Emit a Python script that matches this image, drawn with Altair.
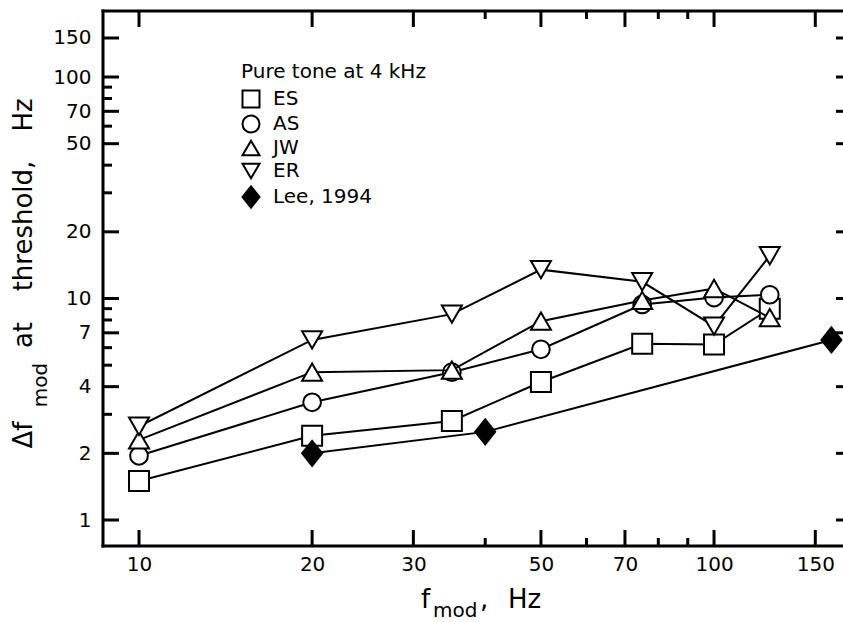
import altair as alt
import pandas as pd

# Modulation rates (Hz) and FM detection thresholds (Hz) for each listener
fmod_main = [10, 20, 35, 50, 75, 100, 125]
es = [1.5, 2.4, 2.8, 4.2, 6.25, 6.2, 9.0]
as_ = [1.95, 3.4, 4.65, 5.9, 9.4, 10.1, 10.4]
jw = [2.3, 4.65, 4.75, 7.9, 9.8, 11.1, 8.2]
er = [2.65, 6.5, 8.5, 13.5, 11.9, 7.5, 15.6]
fmod_lee = [20, 40, 160]
lee = [2.0, 2.5, 6.5]

series_names = ["ES", "AS", "JW", "ER", "Lee, 1994"]
series_shapes = ["square", "circle", "triangle-up", "triangle-down",
                 "M0,-1.25L1,0L0,1.25L-1,0Z"]
series_fills = ["white", "white", "white", "white", "black"]
series_sizes = [400, 314, 400, 400, 400]

x_label_values = [10, 20, 30, 50, 70, 100, 150]
x_minor_values = [40, 60, 80, 90]
y_label_values = [1, 2, 4, 7, 10, 20, 50, 70, 100, 150]
y_minor_values = [3, 5, 6, 8, 9, 30, 40, 60, 80, 90]

W, H = 740, 535
FONT = "DejaVu Sans"

rows = []
for name, xs, ys in [("ES", fmod_main, es), ("AS", fmod_main, as_),
                     ("JW", fmod_main, jw), ("ER", fmod_main, er),
                     ("Lee, 1994", fmod_lee, lee)]:
    for xv, yv in zip(xs, ys):
        rows.append({"series": name, "fmod": xv, "dfmod": yv})
df = pd.DataFrame(rows)

xscale = alt.Scale(type="log", domain=[8.657, 167.6], nice=False)
yscale = alt.Scale(type="log", domain=[0.7633, 198.6], nice=False)

x_axis = alt.Axis(values=x_label_values, format="d", ticks=False, domain=False,
                  grid=False, title=None, labelFont=FONT, labelFontSize=20,
                  labelColor="black", labelPadding=8, labelFlush=False,
                  labelOverlap=False)
y_axis = alt.Axis(values=y_label_values, format="d", ticks=False, domain=False,
                  grid=False, title=None, labelFont=FONT, labelFontSize=20,
                  labelColor="black", labelPadding=12, labelFlush=False,
                  labelOverlap=False)

X = alt.X("fmod:Q", scale=xscale, axis=x_axis)
Y = alt.Y("dfmod:Q", scale=yscale, axis=y_axis)

legend = alt.Legend(title="Pure tone at 4 kHz", orient="none", legendX=138,
                    legendY=51, titleLimit=400)
shape_enc = alt.Shape("series:N", scale=alt.Scale(domain=series_names,
                                                  range=series_shapes),
                      legend=legend)
fill_enc = alt.Fill("series:N", scale=alt.Scale(domain=series_names,
                                                range=series_fills),
                    legend=legend)
stroke_enc = alt.Stroke("series:N", scale=alt.Scale(domain=series_names,
                                                    range=["black"] * 5),
                        legend=legend)

layers = []
for name, size in zip(series_names, series_sizes):
    base = alt.Chart(df).transform_filter(alt.datum.series == name)
    line = base.mark_line(color="black", strokeWidth=2).encode(x=X, y=Y)
    pts = base.mark_point(filled=True, strokeWidth=2, opacity=1,
                          size=size).encode(
        x=X, y=Y, shape=shape_enc, fill=fill_enc, stroke=stroke_enc,
    )
    layers += [line, pts]


def xticks(values, y0, y1):
    return alt.Chart(pd.DataFrame({"fmod": values})).mark_rule(
        color="black", strokeWidth=3).encode(
        x=X, y=alt.value(y0), y2=alt.value(y1))


def yticks(values, x0, x1):
    return alt.Chart(pd.DataFrame({"dfmod": values})).mark_rule(
        color="black", strokeWidth=3).encode(
        y=Y, x=alt.value(x0), x2=alt.value(x1))


tick_layers = [
    xticks(x_label_values, H, H - 16), xticks(x_minor_values, H, H - 8),
    xticks(x_label_values, 0, 16), xticks(x_minor_values, 0, 8),
    yticks(y_label_values, 0, 16), yticks(y_minor_values, 0, 9),
    yticks(y_label_values, W - 7, W + 8),
]

one = pd.DataFrame({"k": [0]})
frame_layers = [
    alt.Chart(one).mark_rule(color="black", strokeWidth=3, strokeCap="square").encode(
        x=alt.value(0), y=alt.value(0), y2=alt.value(H)),
    alt.Chart(one).mark_rule(color="black", strokeWidth=3, strokeCap="square").encode(
        x=alt.value(0), x2=alt.value(W + 8), y=alt.value(0)),
    alt.Chart(one).mark_rule(color="black", strokeWidth=3, strokeCap="square").encode(
        x=alt.value(0), x2=alt.value(W + 8), y=alt.value(H)),
]


def label(text, x, y, size, align="left", angle=0):
    return alt.Chart(pd.DataFrame({"t": [text]})).mark_text(
        font=FONT, fontSize=size, color="black", align=align,
        baseline="alphabetic", angle=angle).encode(
        text="t:N", x=alt.value(x), y=alt.value(y))


# x-axis title: f_mod, Hz
title_layers = [
    label("f", 318, 597, 26),
    label("mod", 330, 606, 20),
    label(",", 377, 597, 26),
    label("Hz", 405, 597, 26),
    # y-axis title: Δf_mod at threshold, Hz (rotated)
    label("Δf", -71, 424, 26, align="center", angle=270),
    label("mod", -56, 374, 20, align="center", angle=270),
    label("at", -71, 324, 26, align="center", angle=270),
    label("threshold,", -71, 215, 26, align="center", angle=270),
    label("Hz", -71, 104, 26, align="center", angle=270),
]

chart = alt.layer(*(layers + tick_layers + frame_layers + title_layers)).properties(
    width=W, height=H,
    autosize=alt.AutoSizeParams(type="none"),
    padding={"left": 103, "top": 11, "right": 0, "bottom": 76},
    background="white",
).configure_view(stroke=None).configure_legend(
    titleFont=FONT, titleFontSize=20, titleFontWeight="normal",
    titleColor="black", titlePadding=7,
    labelFont=FONT, labelFontSize=20, labelColor="black", labelOffset=12,
    symbolStrokeWidth=2, symbolSize=289,
    rowPadding=-1, symbolOffset=0, padding=0,
)

chart.save("out.html", embed_options={"renderer": "svg", "actions": False})
